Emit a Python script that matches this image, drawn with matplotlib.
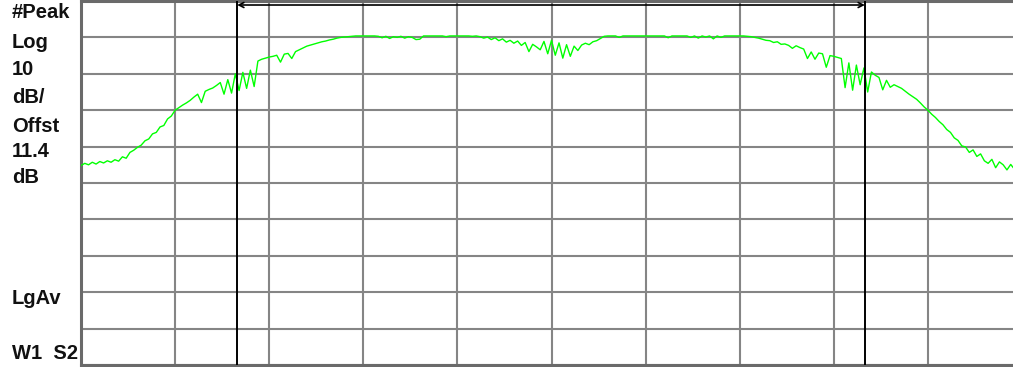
import numpy as np
import matplotlib
matplotlib.use("Agg")
import matplotlib.pyplot as plt

# ---- data -------------------------------------------------------------
# sweep positions in screen divisions (0..10), 251 trace points
sweep_div = np.linspace(0, 10, 251)

trace_db = [
    # 0.00 - 1.00
    -45.2, -44.6, -45.0, -44.3, -44.8, -44.1, -44.5, -43.9, -44.3, -43.6,
    -44.0, -42.8, -43.2, -41.6, -41.0, -40.2, -39.6, -38.4, -37.9, -36.5,
    -36.1, -34.6, -34.2, -32.4, -31.6, -30.0,
    # 1.04 - 1.96
    -29.3, -28.6, -28.0, -27.3, -26.4, -25.6, -27.9, -24.8, -24.3, -23.9,
    -23.2, -22.4, -25.6, -21.6, -25.3, -20.0, -24.6, -19.6, -24.0, -19.0,
    -23.5, -16.5, -16.0, -15.7,
    # 2.00 - 2.96
    -15.4, -15.2, -14.9, -16.8, -14.6, -14.4, -15.8, -13.9, -13.4, -12.9,
    -12.4, -12.1, -11.8, -11.5, -11.2, -11.0, -10.7, -10.5, -10.2, -10.0,
    -9.9, -9.8, -9.7, -9.6, -9.6,
    # 3.00 - 4.20
    -9.6, -9.6, -9.6, -9.6, -9.7, -10.1, -9.7, -10.3, -9.8, -10.0,
    -9.7, -10.2, -9.8, -10.0, -10.6, -10.5, -9.6, -9.6, -9.6, -9.6,
    -9.6, -9.6, -9.8, -9.6, -9.6, -9.6, -9.6, -9.6, -9.6, -9.7,
    -9.6,
    # 4.24 - 5.56
    -9.8, -10.2, -9.9, -10.6, -10.1, -10.9, -10.4, -11.3, -10.8, -11.6,
    -11.0, -12.2, -11.4, -13.9, -11.9, -12.6, -13.4, -11.1, -14.5, -10.8,
    -14.9, -11.5, -15.7, -12.0, -15.2, -12.4, -13.6, -12.1, -11.6, -12.0,
    -11.2, -10.9, -10.3, -9.7,
    # 5.60 - 6.96
    -9.6, -9.6, -9.6, -10.0, -9.6, -9.6, -9.6, -9.6, -9.6, -9.6,
    -9.6, -9.6, -9.6, -9.6, -9.6, -9.6, -10.1, -9.6, -9.6, -9.6,
    -9.6, -9.6, -10.0, -9.6, -10.2, -9.6, -9.9, -9.6, -10.4, -9.6,
    -10.0, -9.6, -9.6, -9.6, -9.6,
    # 7.00 - 8.36
    -9.6, -9.6, -9.7, -9.8, -10.0, -10.2, -10.5, -10.8, -10.9, -11.4,
    -11.2, -11.9, -11.8, -12.2, -13.0, -12.3, -12.8, -13.2, -15.8, -14.0,
    -16.0, -14.3, -14.5, -18.2, -15.0, -15.2, -15.5, -15.8, -23.8, -17.0,
    -24.5, -17.6, -23.0, -18.4, -25.0,
    # 8.40 - 10.00
    -19.5, -20.4, -21.0, -24.4, -21.8, -23.7, -23.0, -23.5, -24.0, -24.8,
    -25.6, -26.3, -27.0, -28.0, -29.1, -30.0, -31.1, -32.0, -33.1, -34.0,
    -35.3, -36.1, -37.6, -38.3, -39.8, -40.1, -41.6, -40.9, -42.7, -42.0,
    -43.9, -44.6, -43.5, -45.8, -44.2, -45.0, -46.4, -44.9, -46.2, -45.5,
    -46.0,
]

marker_div = [1.66, 8.33]          # vertical display-line markers
span_level_db = -1.1               # level of the span arrow between them

left_labels = ["#Peak", "Log", "10", "dB/", "Offst", "11.4", "dB", "LgAv", "W1  S2"]
label_baseline_px = [18, 48, 75, 103, 132, 157, 183, 304, 359]

# ---- figure -----------------------------------------------------------
W, H = 1013, 367
fig = plt.figure(figsize=(W / 100, H / 100), dpi=100)
fig.patch.set_facecolor("white")

ax = fig.add_axes([81 / W, 2 / H, 941 / W, 364 / H])
ax.set_xlim(0, 10)
ax.set_ylim(-100, 0)
ax.set_xticks(np.arange(0, 11, 1))
ax.set_yticks(np.arange(-100, 1, 10))
ax.tick_params(length=0, labelbottom=False, labelleft=False)
ax.grid(True, color="#858585", linewidth=1.5)
ax.set_axisbelow(True)
for side, sp in ax.spines.items():
    sp.set_color("#6a6a6a")
    sp.set_linewidth(2.2)

ax.plot(sweep_div, trace_db, color="#00ff00", linewidth=1.0, zorder=3)

for m in marker_div:
    ax.axvline(m, color="black", linewidth=1.4, zorder=4)

ax.annotate("", xy=(marker_div[0], span_level_db), xytext=(marker_div[1], span_level_db),
            arrowprops=dict(arrowstyle="<->,head_length=0.35,head_width=0.18",
                            color="black", lw=1.2, shrinkA=0, shrinkB=0), zorder=4)

for txt, yb in zip(left_labels, label_baseline_px):
    fig.text(12 / W, 1 - yb / H, txt, fontsize=14.5, fontweight="bold",
             family=["Liberation Sans", "DejaVu Sans"], va="baseline", ha="left",
             color="#111111")

fig.savefig("out.png", dpi=100)
